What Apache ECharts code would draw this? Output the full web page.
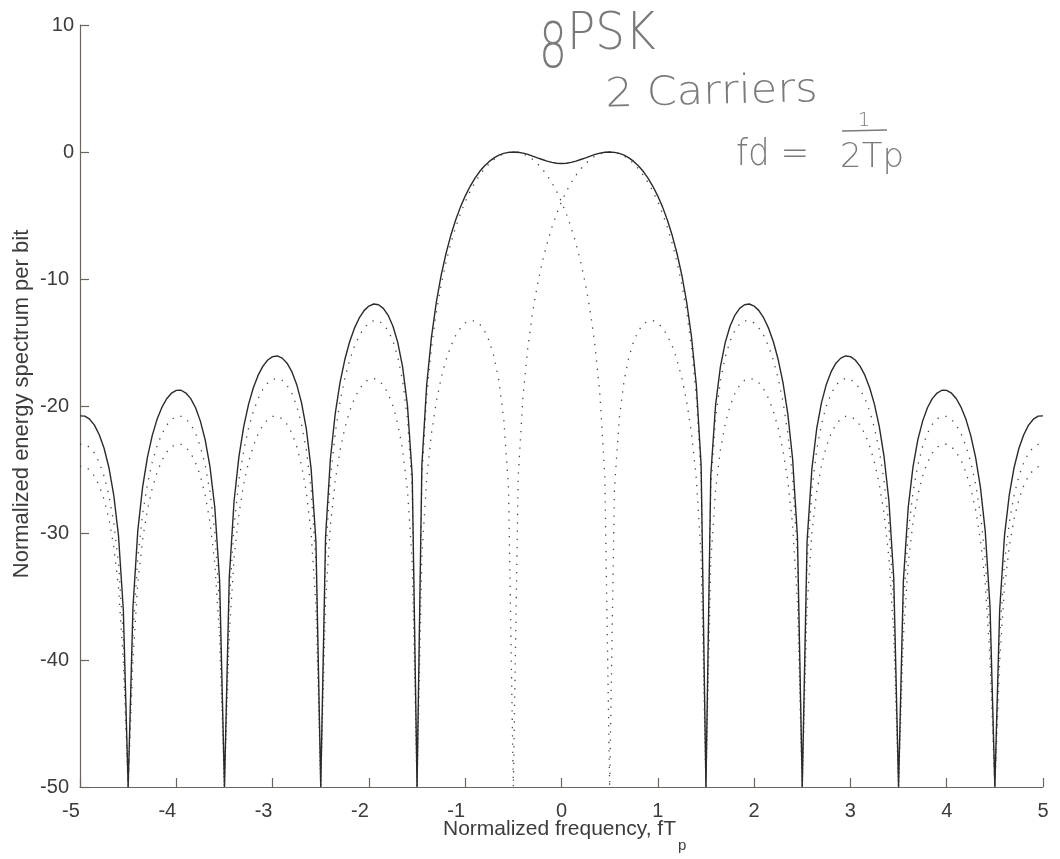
<!DOCTYPE html>
<html><head><meta charset="utf-8">
<script src="https://cdn.jsdelivr.net/npm/echarts@6/dist/echarts.min.js"></script>
<style>html,body{margin:0;padding:0;background:#fff}#c{width:1060px;height:859px}</style>
</head><body><div id="c"></div>
<script>
// Normalized frequency fTp (x samples)
const freq = [
-5,-4.95,-4.9,-4.85,-4.8,-4.75,-4.7,-4.65,-4.6,-4.55,
-4.5,-4.45,-4.4,-4.35,-4.3,-4.25,-4.2,-4.15,-4.1,-4.05,
-4,-3.95,-3.9,-3.85,-3.8,-3.75,-3.7,-3.65,-3.6,-3.55,
-3.5,-3.45,-3.4,-3.35,-3.3,-3.25,-3.2,-3.15,-3.1,-3.05,
-3,-2.95,-2.9,-2.85,-2.8,-2.75,-2.7,-2.65,-2.6,-2.55,
-2.5,-2.45,-2.4,-2.35,-2.3,-2.25,-2.2,-2.15,-2.1,-2.05,
-2,-1.95,-1.9,-1.85,-1.8,-1.75,-1.7,-1.65,-1.6,-1.55,
-1.5,-1.45,-1.4,-1.35,-1.3,-1.25,-1.2,-1.15,-1.1,-1.05,
-1,-0.95,-0.9,-0.85,-0.8,-0.75,-0.7,-0.65,-0.6,-0.55,
-0.5,-0.45,-0.4,-0.35,-0.3,-0.25,-0.2,-0.15,-0.1,-0.05,
0,
0.05,0.1,0.15,0.2,0.25,0.3,0.35,0.4,0.45,0.5,
0.55,0.6,0.65,0.7,0.75,0.8,0.85,0.9,0.95,1,
1.05,1.1,1.15,1.2,1.25,1.3,1.35,1.4,1.45,1.5,
1.55,1.6,1.65,1.7,1.75,1.8,1.85,1.9,1.95,2,
2.05,2.1,2.15,2.2,2.25,2.3,2.35,2.4,2.45,2.5,
2.55,2.6,2.65,2.7,2.75,2.8,2.85,2.9,2.95,3,
3.05,3.1,3.15,3.2,3.25,3.3,3.35,3.4,3.45,3.5,
3.55,3.6,3.65,3.7,3.75,3.8,3.85,3.9,3.95,4,
4.05,4.1,4.15,4.2,4.25,4.3,4.35,4.4,4.45,4.5,
4.55,4.6,4.65,4.7,4.75,4.8,4.85,4.9,4.95,5
];

// Solid curve: spectrum of the two carriers together (dB)
const combined = [
-20.78,-20.80,-21.04,-21.51,-22.26,-23.33,-24.84,-26.99,-30.23,-36.06,
-50,-35.85,-29.83,-26.39,-24.04,-22.33,-21.05,-20.11,-19.43,-18.99,
-18.77,-18.76,-18.98,-19.42,-20.14,-21.19,-22.67,-24.79,-28.01,-33.79,
-50,-33.53,-27.48,-24.00,-21.62,-19.87,-18.56,-17.57,-16.86,-16.38,
-16.11,-16.06,-16.23,-16.63,-17.30,-18.30,-19.73,-21.79,-24.95,-30.67,
-50,-30.28,-24.17,-20.62,-18.16,-16.34,-14.94,-13.87,-13.07,-12.49,
-12.13,-11.97,-12.03,-12.31,-12.86,-13.72,-15.01,-16.92,-19.92,-25.47,
-50,-24.69,-18.35,-14.56,-11.84,-9.72,-8.01,-6.58,-5.37,-4.34,
-3.47,-2.72,-2.08,-1.54,-1.10,-0.74,-0.46,-0.25,-0.11,-0.03,
0,-0.02,-0.09,-0.19,-0.32,-0.46,-0.59,-0.72,-0.82,-0.89,
-0.91,
-0.89,-0.82,-0.72,-0.59,-0.46,-0.32,-0.19,-0.09,-0.02,0,
-0.03,-0.11,-0.25,-0.46,-0.74,-1.10,-1.54,-2.08,-2.72,-3.47,
-4.34,-5.37,-6.58,-8.01,-9.72,-11.84,-14.56,-18.35,-24.69,-50,
-25.47,-19.92,-16.92,-15.01,-13.72,-12.86,-12.31,-12.03,-11.97,-12.13,
-12.49,-13.07,-13.87,-14.94,-16.34,-18.16,-20.62,-24.17,-30.28,-50,
-30.67,-24.95,-21.79,-19.73,-18.30,-17.30,-16.63,-16.23,-16.06,-16.11,
-16.38,-16.86,-17.57,-18.56,-19.87,-21.62,-24.00,-27.48,-33.53,-50,
-33.79,-28.01,-24.79,-22.67,-21.19,-20.14,-19.42,-18.98,-18.76,-18.77,
-18.99,-19.43,-20.11,-21.05,-22.33,-24.04,-26.39,-29.83,-35.85,-50,
-36.06,-30.23,-26.99,-24.84,-23.33,-22.26,-21.51,-21.04,-20.80,-20.78
];

// Dotted curve: carrier centred at +0.5 (dB)
const carrierHigh = [
-24.75,-24.78,-25.03,-25.51,-26.27,-27.36,-28.88,-31.04,-34.29,-40.12,
-50,-39.95,-33.95,-30.52,-28.18,-26.49,-25.23,-24.29,-23.63,-23.21,
-23.01,-23.02,-23.25,-23.71,-24.45,-25.52,-27.02,-29.16,-32.40,-38.21,
-50,-37.99,-31.96,-28.51,-26.15,-24.43,-23.15,-22.19,-21.51,-21.06,
-20.82,-20.81,-21.01,-21.45,-22.15,-23.19,-24.66,-26.77,-29.97,-35.74,
-50,-35.45,-29.39,-25.90,-23.50,-21.74,-20.41,-19.41,-18.68,-18.18,
-17.90,-17.83,-17.98,-18.37,-19.02,-20.00,-21.41,-23.45,-26.59,-32.29,
-50,-31.86,-25.72,-22.15,-19.66,-17.81,-16.39,-15.29,-14.46,-13.86,
-13.46,-13.28,-13.30,-13.55,-14.06,-14.89,-16.14,-18.02,-20.97,-26.48,
-50,-25.61,-19.23,-15.39,-12.62,-10.45,-8.69,-7.20,-5.94,-4.86,
-3.92,-3.11,-2.42,-1.83,-1.33,-0.91,-0.58,-0.32,-0.14,-0.04,
0,
-0.04,-0.14,-0.32,-0.58,-0.91,-1.33,-1.83,-2.42,-3.11,-3.92,
-4.86,-5.94,-7.20,-8.69,-10.45,-12.62,-15.39,-19.23,-25.61,-50,
-26.48,-20.97,-18.02,-16.14,-14.89,-14.06,-13.55,-13.30,-13.28,-13.46,
-13.86,-14.46,-15.29,-16.39,-17.81,-19.66,-22.15,-25.72,-31.86,-50,
-32.29,-26.59,-23.45,-21.41,-20.00,-19.02,-18.37,-17.98,-17.83,-17.90,
-18.18,-18.68,-19.41,-20.41,-21.74,-23.50,-25.90,-29.39,-35.45,-50,
-35.74,-29.97,-26.77,-24.66,-23.19,-22.15,-21.45,-21.01,-20.81,-20.82,
-21.06,-21.51,-22.19,-23.15,-24.43,-26.15,-28.51,-31.96,-37.99,-50,
-38.21,-32.40,-29.16,-27.02,-25.52,-24.45,-23.71,-23.25,-23.02,-23.01
];

// Dotted curve: carrier centred at -0.5 (dB)
const carrierLow = [
-23.01,-23.02,-23.25,-23.71,-24.45,-25.52,-27.02,-29.16,-32.40,-38.21,
-50,-37.99,-31.96,-28.51,-26.15,-24.43,-23.15,-22.19,-21.51,-21.06,
-20.82,-20.81,-21.01,-21.45,-22.15,-23.19,-24.66,-26.77,-29.97,-35.74,
-50,-35.45,-29.39,-25.90,-23.50,-21.74,-20.41,-19.41,-18.68,-18.18,
-17.90,-17.83,-17.98,-18.37,-19.02,-20.00,-21.41,-23.45,-26.59,-32.29,
-50,-31.86,-25.72,-22.15,-19.66,-17.81,-16.39,-15.29,-14.46,-13.86,
-13.46,-13.28,-13.30,-13.55,-14.06,-14.89,-16.14,-18.02,-20.97,-26.48,
-50,-25.61,-19.23,-15.39,-12.62,-10.45,-8.69,-7.20,-5.94,-4.86,
-3.92,-3.11,-2.42,-1.83,-1.33,-0.91,-0.58,-0.32,-0.14,-0.04,
0,
-0.04,-0.14,-0.32,-0.58,-0.91,-1.33,-1.83,-2.42,-3.11,-3.92,
-4.86,-5.94,-7.20,-8.69,-10.45,-12.62,-15.39,-19.23,-25.61,-50,
-26.48,-20.97,-18.02,-16.14,-14.89,-14.06,-13.55,-13.30,-13.28,-13.46,
-13.86,-14.46,-15.29,-16.39,-17.81,-19.66,-22.15,-25.72,-31.86,-50,
-32.29,-26.59,-23.45,-21.41,-20.00,-19.02,-18.37,-17.98,-17.83,-17.90,
-18.18,-18.68,-19.41,-20.41,-21.74,-23.50,-25.90,-29.39,-35.45,-50,
-35.74,-29.97,-26.77,-24.66,-23.19,-22.15,-21.45,-21.01,-20.81,-20.82,
-21.06,-21.51,-22.19,-23.15,-24.43,-26.15,-28.51,-31.96,-37.99,-50,
-38.21,-32.40,-29.16,-27.02,-25.52,-24.45,-23.71,-23.25,-23.02,-23.01,
-23.21,-23.63,-24.29,-25.23,-26.49,-28.18,-30.52,-33.95,-39.95,-50,
-40.12,-34.29,-31.04,-28.88,-27.36,-26.27,-25.51,-25.03,-24.78,-24.75
];

const xRange = [-5, 5];
const yRange = [-50, 10];
const xTitle = 'Normalized frequency, fT';
const xTitleSub = 'p';
const yTitle = 'Normalized energy spectrum per bit';
const noteTitle = ['8', 'PSK'];
const noteCarriers = '2 Carriers';
const noteFd = 'fd =';
const noteNum = '1';
const noteDen = '2Tp';

const FONT = '"Liberation Sans", Arial, Helvetica, sans-serif';
const HAND = '"DejaVu Sans", sans-serif';
const AXIS = '#6c655f';
const TXT = '#3c3c3c';
const PENCIL = '#7a7a7a';

function pairs(ys) { return freq.map((x, i) => [x, ys[i]]); }
function tickFmt(v) { return v < 0 ? '{n|' + v + '}' : '{p|' + v + '}'; }

const chart = echarts.init(document.getElementById('c'), null, { renderer: 'canvas' });

const lineCommon = { lineStyle: { color: AXIS, width: 1.2 } };
const labelBase = { color: TXT, fontSize: 20, fontFamily: FONT };

chart.setOption({
  animation: false,
  backgroundColor: '#ffffff',
  grid: { left: 80, right: 17, top: 25, bottom: 72, containLabel: false },
  xAxis: {
    type: 'value', min: xRange[0], max: xRange[1], interval: 1,
    axisLine: Object.assign({ show: true, onZero: false }, lineCommon),
    axisTick: Object.assign({ show: true, inside: true, length: 9 }, lineCommon),
    splitLine: { show: false },
    axisLabel: Object.assign({}, labelBase, { margin: 14, formatter: tickFmt,
      rich: { n: Object.assign({}, labelBase, { padding: [0, 18, 0, 0] }), p: Object.assign({}, labelBase) } })
  },
  yAxis: {
    type: 'value', min: yRange[0], max: yRange[1], interval: 10,
    axisLine: Object.assign({ show: true, onZero: false }, lineCommon),
    axisTick: Object.assign({ show: true, inside: true, length: 9 }, lineCommon),
    splitLine: { show: false },
    axisLabel: Object.assign({}, labelBase, { margin: 6, formatter: tickFmt,
      rich: { n: Object.assign({}, labelBase, { padding: [0, 5, 0, 0] }), p: Object.assign({}, labelBase) } })
  },
  series: [
    { type: 'line', data: pairs(carrierLow), showSymbol: false, clip: true, z: 2,
      lineStyle: { color: '#474747', width: 1.3, type: [1.3, 7] } },
    { type: 'line', data: pairs(carrierHigh), showSymbol: false, clip: true, z: 2,
      lineStyle: { color: '#474747', width: 1.3, type: [1.3, 7] } },
    { type: 'line', data: pairs(combined), showSymbol: false, clip: true, z: 3,
      lineStyle: { color: '#2a2a2a', width: 1.4 } }
  ],
  graphic: [
    { type: 'text', x: 22, y: 404, rotation: Math.PI / 2,
      style: { text: yTitle, font: '22px ' + FONT, fill: TXT, align: 'center', verticalAlign: 'middle', textAlign: 'center', textVerticalAlign: 'middle' } },
    { type: 'text', x: 676, y: 840,
      style: { text: xTitle, font: '21px ' + FONT, fill: TXT, align: 'right', verticalAlign: 'bottom', textAlign: 'right', textVerticalAlign: 'bottom' } },
    { type: 'text', x: 678, y: 853,
      style: { text: xTitleSub, font: '15px ' + FONT, fill: TXT, align: 'left', verticalAlign: 'bottom', textAlign: 'left', textVerticalAlign: 'bottom' } },
    // handwritten notes
    { type: 'text', x: 539, y: 19, scaleX: 0.7,
      style: { text: noteTitle[0], font: '200 63px ' + HAND, fill: PENCIL, align: 'left', verticalAlign: 'top', textAlign: 'left', textVerticalAlign: 'top' } },
    { type: 'text', x: 567, y: 9, scaleX: 0.9,
      style: { text: noteTitle[1], font: '200 52px ' + HAND, fill: PENCIL, align: 'left', verticalAlign: 'top', textAlign: 'left', textVerticalAlign: 'top' } },
    { type: 'text', x: 605, y: 76, scaleX: 1.08, rotation: 0.025,
      style: { text: noteCarriers, font: '200 40px ' + HAND, fill: PENCIL, align: 'left', verticalAlign: 'top', textAlign: 'left', textVerticalAlign: 'top' } },
    { type: 'text', x: 736, y: 136, scaleX: 0.9,
      style: { text: noteFd, font: '200 38px ' + HAND, fill: PENCIL, align: 'left', verticalAlign: 'top', textAlign: 'left', textVerticalAlign: 'top' } },
    { type: 'text', x: 864, y: 112,
      style: { text: noteNum, font: '200 19px ' + HAND, fill: PENCIL, align: 'center', verticalAlign: 'top', textAlign: 'center', textVerticalAlign: 'top' } },
    { type: 'line', shape: { x1: 842, y1: 131, x2: 887, y2: 130 },
      style: { stroke: PENCIL, lineWidth: 1.6 } },
    { type: 'text', x: 840, y: 141,
      style: { text: noteDen, font: '200 34px ' + HAND, fill: PENCIL, align: 'left', verticalAlign: 'top', textAlign: 'left', textVerticalAlign: 'top' } }
  ]
});
</script>
</body></html>
